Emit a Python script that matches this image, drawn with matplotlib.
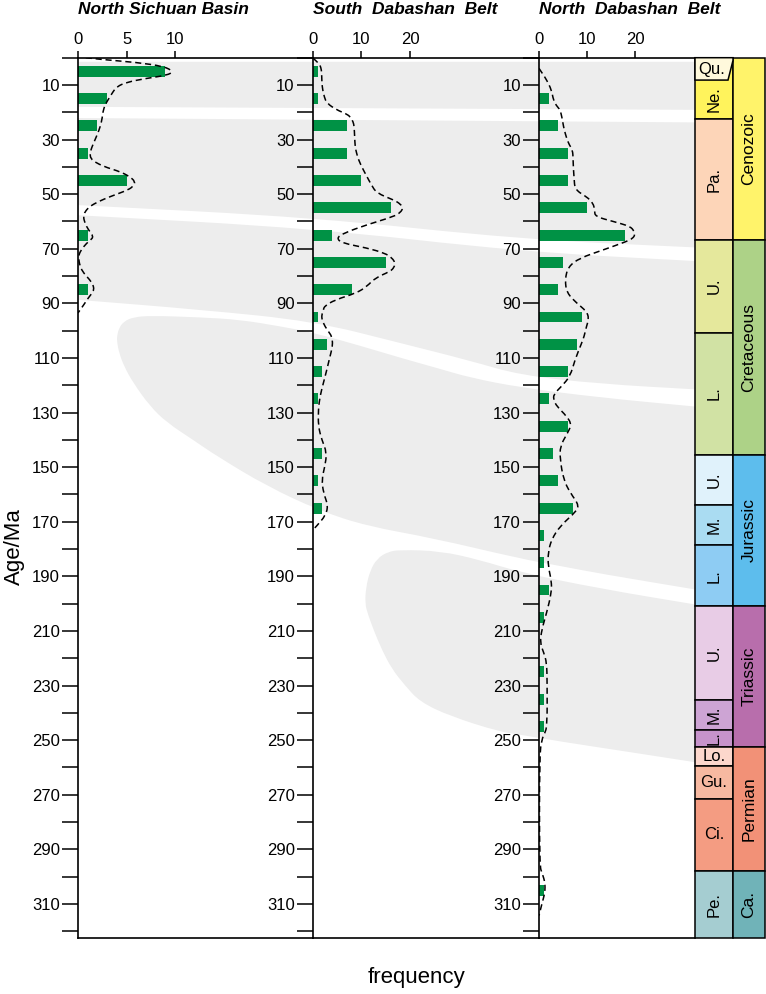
import numpy as np
import matplotlib
matplotlib.use("Agg")
import matplotlib.pyplot as plt
from matplotlib.path import Path
from matplotlib.patches import PathPatch, Polygon, Rectangle

plt.rcParams['font.family'] = ['Liberation Sans', 'DejaVu Sans']

# ---- histogram data (bin centres in Ma, counts) ----
bins = [5, 15, 25, 35, 45, 55, 65, 75, 85, 95, 105, 115, 125, 135, 145, 155,
        165, 175, 185, 195, 205, 215, 225, 235, 245, 255, 265, 275, 285, 295,
        305, 315]
nsb_counts = [9, 3, 2, 1, 5, 0, 1, 0, 1, 0, 0, 0, 0, 0, 0, 0,
              0, 0, 0, 0, 0, 0, 0, 0, 0, 0, 0, 0, 0, 0, 0, 0]
sdb_counts = [1, 1, 7, 7, 10, 16, 4, 15, 8, 1, 3, 2, 1, 0, 2, 1,
              2, 0, 0, 0, 0, 0, 0, 0, 0, 0, 0, 0, 0, 0, 0, 0]
ndb_counts = [0, 2, 4, 6, 6, 10, 18, 5, 4, 9, 8, 6, 2, 6, 3, 4,
              7, 1, 1, 2, 1, 0, 1, 1, 1, 0, 0, 0, 0, 0, 1, 0]

# ---- density curves (age, value) ----
nsb_curve_age = [0, 0.7, 1.7, 3.2, 5.1, 6.4, 7.6, 9.0, 10.6, 12.5, 14.3, 16.5,
                 19.1, 22, 25.2, 28, 30.1, 33, 35, 37, 38.6, 40.3, 41.7, 43.5,
                 45.4, 47, 48.4, 50.9, 52.7, 54.5, 56.5, 58.2, 60.5, 63, 65.5,
                 66.8, 67.9, 70.5, 72.8, 76.5, 79, 81.3, 83.2, 85, 86.5, 88,
                 90.5, 93.5]
nsb_curve_val = [0.8, 2.5, 6.0, 8.9, 9.8, 9.2, 7.0, 5.0, 4.0, 3.6, 3.3, 2.9,
                 2.6, 2.5, 2.3, 2.0, 1.75, 1.4, 1.24, 1.3, 1.9, 3.0, 4.3, 5.3,
                 5.9, 5.7, 5.2, 3.3, 2.1, 1.2, 0.7, 0.55, 0.7, 1.06, 1.6,
                 1.3, 0.9, 0.3, 0.03, 0.2, 0.6, 1.2, 1.55, 1.65, 1.4, 1.06,
                 0.6, 0]

sdb_curve_age = [0.2, 1.5, 2.7, 4.5, 6.9, 9.5, 11.8, 14.5, 16.7, 19.1, 20.5,
                 21.6, 23.5, 25.2, 29, 32.6, 35, 37.4, 40.5, 43.5, 46.5, 49.6,
                 52.1, 53.6, 55.1, 56.7, 58.2, 61.2, 64.3, 66.1, 67.9, 69.7,
                 71.6, 73.4, 75.2, 76.8, 78.3, 80.7, 83.8, 86.2, 88.7, 91.1,
                 92.9, 94.1, 96, 98.4, 100.5, 102.1, 104.5, 107, 109.4, 114.3,
                 119.1, 124, 128.9, 135, 139.9, 144.7, 149.7, 154.5, 159.4,
                 164.3, 168, 170.5, 172.2, 172.8]
sdb_curve_val = [0.1, 0.9, 1.5, 1.8, 1.85, 1.9, 2.05, 2.4, 2.9, 4.9, 6.8,
                 7.7, 8.3, 8.5, 8.6, 8.7, 9.0, 9.4, 10.2, 11.1, 12.0, 13.1,
                 16.6, 18.0, 18.5, 18.0, 16.6, 11.1, 6.3, 4.9, 6.0, 11.1,
                 14.8, 16.3, 16.9, 16.7, 15.9, 12.8, 11.1, 9.0, 4.6, 2.3,
                 2.2, 1.85, 1.9, 2.5, 3.3, 3.9, 4.1, 3.9, 3.55, 2.9,
                 2.2, 1.5, 1.15, 1.15, 1.85, 2.9, 2.5, 1.85, 2.2,
                 3.2, 2.5, 1.3, 0.5, 0]

ndb_curve_age = [3.9, 6, 8.2, 11.8, 15.5, 17.5, 19.1, 22, 25.2, 28, 31.3, 33.8,
                 37, 39.9, 44, 48.4, 50.9, 53.3, 56, 58.2, 60, 61.8, 63.5, 64.9,
                 66.2, 67.3, 70.4, 73.4, 76.5, 81.3, 86.2, 89.9, 92.9, 95.5,
                 98.4, 102.1, 104.5, 110.6, 116.7, 120.4, 123.4, 125.5, 127.7,
                 131.4, 134.4, 138, 142.3, 147.2, 154.5, 159.4, 164.3, 167.3,
                 171.6, 176.5, 181.3, 186.2, 191.7, 196, 203.3, 209.4, 214.3,
                 218, 221.6, 228.9, 244.8, 247.5, 249.6, 255.8, 296, 299, 302.1,
                 305.8, 310, 314.3]
ndb_curve_val = [0, 0.8, 1.6, 2.6, 3.0, 3.6, 4.4, 4.8, 5.1, 5.5, 6.1, 7.0,
                 7.1, 7.15, 7.3, 7.5, 9.9, 11.3, 11.6, 11.7, 15.5, 19.0, 19.8, 20.0,
                 19.5, 18.3, 13.4, 8.5, 6.1, 5.4, 5.8, 7.85, 9.9, 10.4,
                 9.9, 9.4, 8.9, 7.5, 6.5, 4.7, 3.0, 3.1, 3.7,
                 5.8, 6.8, 5.8, 4.4, 4.4, 5.1, 6.5, 8.5, 7.1,
                 4.4, 2.6, 1.9, 1.9, 2.6, 2.6, 1.6, 0.6, 0.2,
                 1.0, 1.6, 1.7, 1.7, 1.2, 0.6, 0.1, 0.1, 0.7, 1.25,
                 1.25, 0.6, 0]

panel_titles = ['North Sichuan Basin', 'South  Dabashan  Belt', 'North  Dabashan  Belt']
panel_xticks = [[0, 5, 10], [0, 10, 20], [0, 10, 20]]

# ---- stratigraphic column ----
period_names = ['Qu.', 'Ne.', 'Pa.', 'U.', 'L.', 'U.', 'M.', 'L.', 'U.', 'M.',
                'L.', 'Lo.', 'Gu.', 'Ci.', 'Pe.']
period_tops = [0, 8.2, 22.4, 66.7, 100.7, 145.4, 163.7, 178.7, 200.9, 235.2,
               246.2, 252.6, 259.4, 271.6, 297.8]
period_colors = ['#FFF9DC', '#FFF35C', '#FDD5B8', '#E5E89C', '#D1E2A4',
                 '#E0F2FB', '#AADCF2', '#8ECCF3', '#E8CCE6', '#CDA4D4',
                 '#C693CB', '#FCD7CC', '#F7B9A1', '#F49C82', '#A5CDD1']
period_rot = [0, 90, 90, 90, 90, 90, 90, 90, 90, 90, 90, 0, 0, 0, 90]
era_names = ['Cenozoic', 'Cretaceous', 'Jurassic', 'Triassic', 'Permian', 'Ca.']
era_tops = [0, 66.7, 145.4, 200.9, 252.6, 297.8]
era_colors = ['#FFF36A', '#ADD287', '#5DBDED', '#B86EAC', '#F29177', '#70B3B8']
AGE_MAX = 322.5

# gray correlation bands: (x pixel, age) outlines
bands = [
    [(78, 1.5), (695, 1.5), (695, 19.1), (78, 18.0)],
    [(78, 22.1), (695, 23.7), (695, 69.5), (520, 66.5), (313, 58.5), (78, 54.0)],
    [(78, 57.7), (313, 62.5), (520, 71), (695, 74.5), (695, 121.5), (600, 119.5),
     (520, 116.3), (470, 111), (400, 104.5), (313, 96.5), (200, 92.3), (78, 88.7)],
    [(117, 102), (119, 99), (124, 96.6), (133, 95.1), (150, 94.5), (200, 95.1),
     (240, 96), (280, 98.4), (313, 100.7), (360, 105.5), (400, 109.9), (440, 114),
     (470, 117.2), (520, 120.8), (600, 124.5), (695, 127.8), (695, 194.8),
     (600, 189), (560, 186.2), (520, 183.5), (433, 176), (367, 171.6),
     (320, 166), (267, 157), (217, 146), (193, 140), (167, 133.7), (150, 127.7),
     (133, 119), (124, 113), (119, 108), (117, 104)],
    [(365, 200), (366, 194), (370, 188), (377, 183.5), (388, 181), (400, 180.3),
     (440, 180.7), (480, 184), (520, 188.5), (600, 194.5), (695, 200.3),
     (695, 258.1), (630, 254.4), (560, 250.5), (520, 248), (500, 247),
     (450, 241.2), (420, 236), (405, 230), (392, 224), (382, 217),
     (374, 210), (368, 204)],
]

W, H = 766, 994
fig = plt.figure(figsize=(W / 100, H / 100), dpi=100)


def fx(px):
    return px / W


def fy(py):
    return 1 - py / H


top_px, bot_px = 57.7, 938
ax_h = (bot_px - top_px) / H


def smooth_closed(points):
    # quadratic bezier through midpoints; points on the panel edges stay sharp
    pts = []
    for p in points:
        pts.append(p)
        if p[0] in (78, 695):
            pts.append(p)
    pts = np.array(pts, dtype=float)
    n = len(pts)
    start = (pts[-1] + pts[0]) / 2
    verts = [start]
    codes = [Path.MOVETO]
    for i in range(n):
        verts += [pts[i], (pts[i] + pts[(i + 1) % n]) / 2]
        codes += [Path.CURVE3, Path.CURVE3]
    verts.append(start)
    codes.append(Path.CLOSEPOLY)
    return Path(verts, codes)


# background bands
bg = fig.add_axes([fx(78), fy(bot_px), fx(695) - fx(78), ax_h], zorder=0)
bg.set_xlim(78, 695)
bg.set_ylim(AGE_MAX, 0)
bg.axis('off')
for b in bands:
    bg.add_patch(PathPatch(smooth_closed(b), facecolor='#EDEDED', edgecolor='none'))


def smooth_curve(ax, xs, ys):
    pts = np.column_stack([xs, ys])
    verts = [pts[0]]
    codes = [Path.MOVETO]
    for i in range(1, len(pts) - 1):
        verts += [pts[i], (pts[i] + pts[i + 1]) / 2]
        codes += [Path.CURVE3, Path.CURVE3]
    verts.append(pts[-1])
    codes.append(Path.LINETO)
    ax.add_patch(PathPatch(Path(verts, codes), fill=False, edgecolor='black',
                           lw=1.1, linestyle=(0, (4, 2.5)), zorder=3))


panels = [
    (78, 313, 24.2, nsb_counts, nsb_curve_age, nsb_curve_val),
    (312.7, 539, 46.4, sdb_counts, sdb_curve_age, sdb_curve_val),
    (539, 695, 32.5, ndb_counts, ndb_curve_age, ndb_curve_val),
]

for i, (x0, x1, xmax, counts, cage, cval) in enumerate(panels):
    ax = fig.add_axes([fx(x0), fy(bot_px), fx(x1) - fx(x0), ax_h], zorder=2)
    ax.set_facecolor('none')
    ax.barh(bins, counts, height=4, color='#009245', zorder=2)
    smooth_curve(ax, cval, cage)
    ax.set_xlim(0, xmax)
    ax.set_ylim(AGE_MAX, 0)
    ax.xaxis.tick_top()
    ax.set_xticks(panel_xticks[i])
    ax.set_yticks(np.arange(10, 320, 20))
    ax.set_yticks(np.arange(0, 330, 20), minor=True)
    ax.tick_params(axis='y', which='both', direction='out', length=11.5,
                   width=1.1, labelsize=12, pad=1.5)
    ax.tick_params(axis='x', direction='out', length=5, width=1.1,
                   labelsize=12, pad=3)
    ax.spines['right'].set_visible(False)
    for s in ['left', 'top', 'bottom']:
        ax.spines[s].set_linewidth(1.2)
    fig.text(fx(x0), fy(10), panel_titles[i], ha='left', va='center',
             fontsize=12.5, fontweight='bold', fontstyle='italic')

# stratigraphic column
st = fig.add_axes([fx(695), fy(bot_px), fx(765) - fx(695), ax_h], zorder=2)
st.set_xlim(0, 70)
st.set_ylim(AGE_MAX, 0)
st.axis('off')
split = 38
period_bots = period_tops[1:] + [AGE_MAX]
for k, name in enumerate(period_names):
    t, b = period_tops[k], period_bots[k]
    if name == 'Qu.':
        st.add_patch(Polygon([(0, t), (split, t), (split, 1.0), (split - 5, b), (0, b)],
                             closed=True, facecolor=period_colors[k],
                             edgecolor='black', lw=1.1, clip_on=False, zorder=3))
        st.text(split / 2 - 2, (t + b) / 2 + 0.3, name, ha='center', va='center',
                fontsize=12, zorder=4)
        continue
    top = 0 if name == 'Ne.' else t
    st.add_patch(Rectangle((0, top), split, b - top, facecolor=period_colors[k],
                           edgecolor='black', lw=1.1, clip_on=False, zorder=2))
    st.text(split / 2, (t + b) / 2, name, ha='center', va='center',
            rotation=period_rot[k], fontsize=12, zorder=4)
era_bots = era_tops[1:] + [AGE_MAX]
for k, name in enumerate(era_names):
    t, b = era_tops[k], era_bots[k]
    st.add_patch(Rectangle((split, t), 70 - split, b - t, facecolor=era_colors[k],
                           edgecolor='black', lw=1.1, clip_on=False, zorder=2))
    st.text((split + 70) / 2, (t + b) / 2, name, ha='center', va='center',
            rotation=90, fontsize=12.5, zorder=4)

fig.text(fx(14), fy(547), 'Age/Ma', rotation=90, ha='center', va='center',
         fontsize=16)
fig.text(fx(416), fy(978), 'frequency', ha='center', va='center', fontsize=16)

fig.savefig('out.png', dpi=100)
